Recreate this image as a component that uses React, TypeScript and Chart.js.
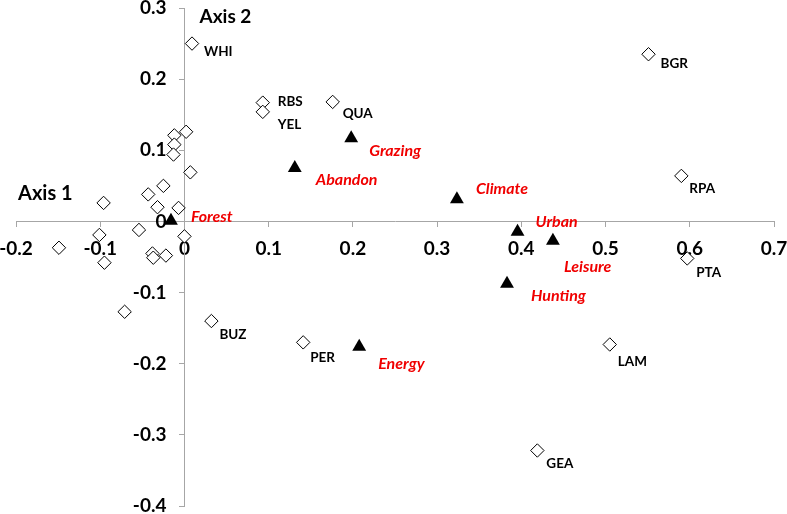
import React, { useEffect, useRef } from 'react';
import { Chart, registerables } from 'chart.js';

Chart.register(...registerables);

// Sites (open diamonds)
const siteLabels = ['WHI', 'RBS', 'YEL', 'QUA', 'BGR', 'RPA', 'PTA', 'LAM', 'GEA', 'BUZ', 'PER',
  '', '', '', '', '', '', '', '', '', '', '', '', '', '', '', '', '', '', ''];
const siteX = [0.009, 0.093, 0.093, 0.176, 0.551, 0.59, 0.597, 0.505, 0.419, 0.032, 0.141,
  0.002, -0.012, -0.012, -0.013, 0.007, -0.025, -0.043, -0.096, -0.032, -0.007, -0.054, -0.101, 0.0, -0.149, -0.038, -0.037, -0.022, -0.095, -0.071];
const siteY = [0.25, 0.167, 0.154, 0.168, 0.235, 0.064, -0.052, -0.173, -0.322, -0.14, -0.17,
  0.126, 0.121, 0.108, 0.094, 0.069, 0.05, 0.038, 0.026, 0.02, 0.019, -0.012, -0.019, -0.021, -0.037, -0.045, -0.051, -0.048, -0.058, -0.127];

// Drivers (black triangles)
const driverLabels = ['Forest', 'Grazing', 'Abandon', 'Climate', 'Urban', 'Leisure', 'Hunting', 'Energy'];
const driverX = [-0.016, 0.198, 0.131, 0.3235, 0.3955, 0.4375, 0.383, 0.2075];
const driverY = [0.001, 0.117, 0.075, 0.031, -0.0144, -0.027, -0.0876, -0.176];

// Axis ranges
const xMin = -0.2, xMax = 0.7, yMin = -0.4, yMax = 0.3, tickStep = 0.1;
const xTitle = 'Axis 1';
const yTitle = 'Axis 2';

// Label placement (pixel offsets from marker centre) — styling only
const siteLabelOffsets: Record<string, [number, number]> = {
  WHI: [12, 8], RBS: [15, -1], YEL: [15, 13], QUA: [10, 12], BGR: [12, 9], RPA: [8, 13],
  PTA: [9, 14], LAM: [8, 17], GEA: [9, 13], BUZ: [8, 14], PER: [7, 15],
};
const driverLabelOffsets: Record<string, [number, number]> = {
  Forest: [20, -4], Grazing: [18, 13], Abandon: [21, 12], Climate: [19, -11], Urban: [18, -10],
  Leisure: [11, 26], Hunting: [24, 12], Energy: [19, 17],
};

const FONT = 'Lato';
const AXIS_GREY = '#a6a6a6';
const RED = '#f00000';
const Y_LABEL_GAP = 18;

const labelPlugin = {
  id: 'pointLabels',
  afterDatasetsDraw(chart: any) {
    const ctx = chart.ctx;
    ctx.save();
    ctx.textAlign = 'left';
    ctx.textBaseline = 'middle';
    ctx.fillStyle = '#000';
    ctx.font = `bold 13.5px ${FONT}`;
    chart.getDatasetMeta(0).data.forEach((el: any, i: number) => {
      const t = siteLabels[i];
      if (!t) return;
      const [dx, dy] = siteLabelOffsets[t] || [8, 12];
      ctx.fillText(t, el.x + dx, el.y + dy);
    });
    ctx.fillStyle = RED;
    ctx.font = `italic bold 16px ${FONT}`;
    chart.getDatasetMeta(1).data.forEach((el: any, i: number) => {
      const t = driverLabels[i];
      const [dx, dy] = driverLabelOffsets[t] || [18, 12];
      ctx.fillText(t, el.x + dx, el.y + dy);
    });
    ctx.restore();
  },
  afterDraw(chart: any) {
    const ctx = chart.ctx;
    const xs = chart.scales.x;
    const ys = chart.scales.y;
    ctx.save();
    ctx.fillStyle = '#000';
    ctx.textBaseline = 'middle';
    ctx.textAlign = 'left';
    ctx.font = `bold 19px ${FONT}`;
    ctx.fillText(yTitle, xs.getPixelForValue(0) + 15, chart.chartArea.top + 9);
    ctx.font = `bold 20px ${FONT}`;
    ctx.fillText(xTitle, 18, ys.getPixelForValue(0) - 28);
    ctx.restore();
  },
};

const fmt = (v: any) => {
  const n = Number(v);
  if (Math.abs(n) < 1e-9) return '0';
  return n.toFixed(1);
};

const zeroPad = (s: any) => {
  s.paddingLeft = 0;
  s.paddingRight = 0;
  s.paddingTop = 0;
  s.paddingBottom = 0;
};

const yFit = (s: any) => {
  zeroPad(s);
  if (!s.__patched) {
    const orig = Object.getPrototypeOf(s)._computeLabelItems;
    s._computeLabelItems = function (ca: any) {
      const items = orig.call(this, ca);
      items.forEach((it: any) => {
        it.options.translation[0] -= Y_LABEL_GAP;
        it.options.textAlign = 'right';
      });
      return items;
    };
    s.__patched = true;
  }
};

export default function App() {
  const ref = useRef<HTMLCanvasElement | null>(null);
  useEffect(() => {
    if (!ref.current) return;
    const tickFont = { family: FONT, size: 19, weight: 'bold' as const };
    const chart = new Chart(ref.current, {
      type: 'scatter',
      data: {
        datasets: [
          {
            label: 'Sites',
            data: siteX.map((x, i) => ({ x, y: siteY[i] })),
            pointStyle: 'rectRot',
            pointRadius: 6.7,
            pointBackgroundColor: '#ffffff',
            pointBorderColor: '#000000',
            pointBorderWidth: 1,
            showLine: false,
          },
          {
            label: 'Drivers',
            data: driverX.map((x, i) => ({ x, y: driverY[i] })),
            pointStyle: 'triangle',
            pointRadius: 8,
            pointBackgroundColor: '#000000',
            pointBorderColor: '#000000',
            pointBorderWidth: 0,
            showLine: false,
          },
        ],
      },
      options: {
        responsive: false,
        animation: false,
        layout: { padding: { left: 16, right: 13, top: 6, bottom: 7 } },
        plugins: { legend: { display: false }, tooltip: { enabled: false } },
        scales: {
          x: {
            type: 'linear',
            min: xMin,
            max: xMax,
            position: { y: 0 } as any,
            afterFit: zeroPad,
            ticks: { stepSize: tickStep, padding: 11, color: '#000', font: tickFont, callback: fmt },
            grid: { drawOnChartArea: false, drawTicks: true, tickLength: 5, color: AXIS_GREY },
            border: { color: AXIS_GREY, width: 1 },
          },
          y: {
            type: 'linear',
            min: yMin,
            max: yMax,
            position: { x: 0 } as any,
            afterFit: yFit,
            ticks: { stepSize: tickStep, padding: 12, color: '#000', font: tickFont, callback: fmt },
            grid: { drawOnChartArea: false, drawTicks: true, tickLength: 5, color: AXIS_GREY },
            border: { color: AXIS_GREY, width: 1 },
          },
        },
      },
      plugins: [labelPlugin],
    });
    return () => chart.destroy();
  }, []);
  return (
    <div style={{ position: 'fixed', left: 0, top: 0, width: 787, height: 514, background: '#fff' }}>
      <canvas ref={ref} width={787} height={514} style={{ display: 'block' }} />
    </div>
  );
}
